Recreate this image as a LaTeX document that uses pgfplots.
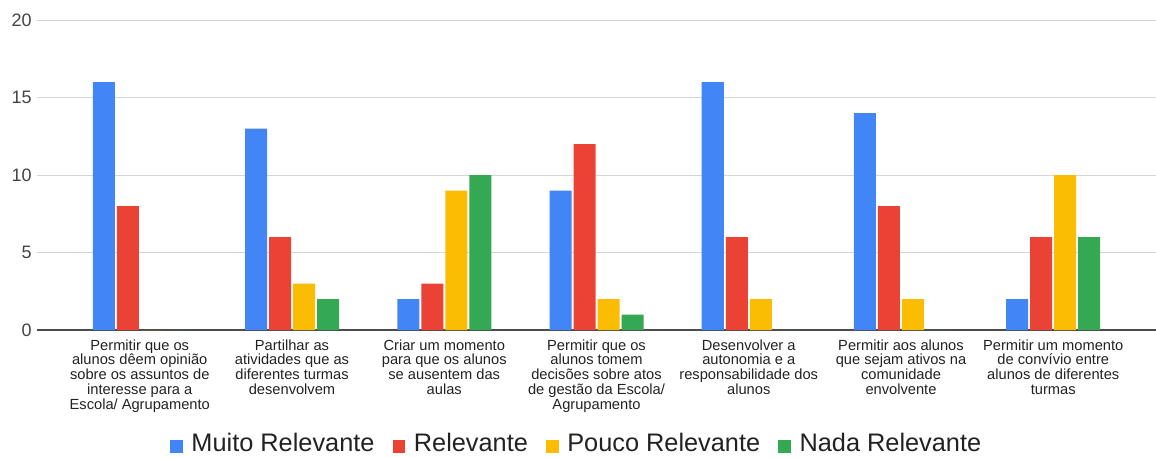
\documentclass[border=0pt]{standalone}
\usepackage{pgfplots}
\pgfplotsset{compat=1.18}
\usepackage{fontspec}
\setmainfont{Liberation Sans}
\definecolor{gblue}{HTML}{4285F4}
\definecolor{gred}{HTML}{EA4335}
\definecolor{gyellow}{HTML}{FBBC04}
\definecolor{ggreen}{HTML}{34A853}
\definecolor{txt}{HTML}{222222}
\definecolor{gridc}{HTML}{D6D6D6}
\begin{document}
\begin{tikzpicture}[x=0.75pt,y=0.75pt]
\useasboundingbox (0,0) rectangle (1156,457);
\begin{axis}[
  at={(27.75pt,95.25pt)}, anchor=south west,
  scale only axis, width=839.25pt, height=232.5pt,
  ybar=1.5pt, bar width=16.5pt,
  xmin=-0.675, xmax=6.675, ymin=0, ymax=20,
  xtick={0,1,2,3,4,5,6},
  xticklabels={
    {Permitir que os\\alunos dêem opinião\\sobre os assuntos de\\interesse para a\\Escola/ Agrupamento},
    {Partilhar as\\atividades que as\\diferentes turmas\\desenvolvem},
    {Criar um momento\\para que os alunos\\se ausentem das\\aulas},
    {Permitir que os\\alunos tomem\\decisões sobre atos\\de gestão da Escola/\\Agrupamento},
    {Desenvolver a\\autonomia e a\\responsabilidade dos\\alunos},
    {Permitir aos alunos\\que sejam ativos na\\comunidade\\envolvente},
    {Permitir um momento\\de convívio entre\\alunos de diferentes\\turmas}},
  xticklabel style={align=center, font=\fontsize{11}{11.1}\selectfont, text=txt, yshift=-3.5pt},
  ytick={0,5,10,15,20},
  yticklabel style={font=\fontsize{13.5}{15}\selectfont, text=txt!85, xshift=-0.5pt},
  /pgf/number format/assume math mode=true,
  ymajorgrids, grid style={draw=gridc, line width=0.75pt},
  axis lines*=left,
  y axis line style={draw=none},
  x axis line style={draw=black!70, line width=1.1pt, -},
  major tick length=0pt,
  legend columns=-1,
  legend style={at={(0.4826,-0.3645)}, anchor=center, draw=none, fill=none,
    font=\fontsize{19}{22}\selectfont, text=txt,
    /tikz/every odd column/.append style={column sep=4.5pt},
    /tikz/every even column/.append style={column sep=11.5pt}},
  legend image code/.code={\fill[#1] (0pt,-7.5pt) rectangle (9.5pt,2pt);},
]
\addplot[fill=gblue, draw=none] coordinates {(0,16) (1,13) (2,2) (3,9) (4,16) (5,14) (6,2)};
\addplot[fill=gred, draw=none] coordinates {(0,8) (1,6) (2,3) (3,12) (4,6) (5,8) (6,6)};
\addplot[fill=gyellow, draw=none] coordinates {(0,0) (1,3) (2,9) (3,2) (4,2) (5,2) (6,10)};
\addplot[fill=ggreen, draw=none] coordinates {(0,0) (1,2) (2,10) (3,1) (4,0) (5,0) (6,6)};
\legend{Muito Relevante, Relevante, Pouco Relevante, Nada Relevante}
\end{axis}
\end{tikzpicture}
\end{document}
